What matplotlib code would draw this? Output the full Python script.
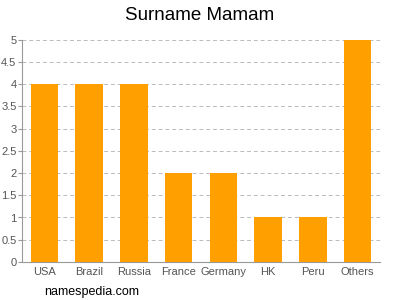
import matplotlib
matplotlib.use("Agg")
import matplotlib.pyplot as plt

paises = ["USA", "Brazil", "Russia", "France", "Germany", "HK", "Peru", "Others"]
valores = [4, 4, 4, 2, 2, 1, 1, 5]
marcas_y = [0, 0.5, 1, 1.5, 2, 2.5, 3, 3.5, 4, 4.5, 5]
etiquetas_y = ["0", "0.5", "1", "1.5", "2", "2.5", "3", "3.5", "4", "4.5", "5"]

plt.rcParams["font.family"] = ["Liberation Sans", "DejaVu Sans"]

fig = plt.figure(figsize=(4, 3), dpi=100)
ax = fig.add_axes([0.055, 0.127, 0.895, 0.74])

ax.bar(range(len(paises)), valores, width=0.62, color="#FFA000", zorder=3)
ax.set_xlim(-0.5, len(paises) - 0.5)
ax.set_ylim(0, 5)
ax.set_yticks(marcas_y)
ax.set_yticklabels(etiquetas_y)
ax.set_xticks(range(len(paises)))
ax.set_xticklabels(paises)

ax.grid(axis="y", color="#bbbbbb", linestyle=(0, (4, 3)), linewidth=0.7, zorder=0)
for lado in ["top", "right"]:
    ax.spines[lado].set_visible(False)
ax.spines["left"].set_color("#999999")
ax.spines["bottom"].set_color("#999999")
ax.tick_params(axis="both", colors="#555555", labelsize=8, length=3)
ax.tick_params(axis="x", length=0, pad=4)
ax.tick_params(axis="y", color="#999999", pad=1)

fig.text(0.5, 0.95, "Surname Mamam", ha="center", va="center", fontsize=13.5)
fig.text(0.11, 0.027, "namespedia.com", ha="left", va="center", fontsize=9)

fig.savefig("out.png", dpi=100)
